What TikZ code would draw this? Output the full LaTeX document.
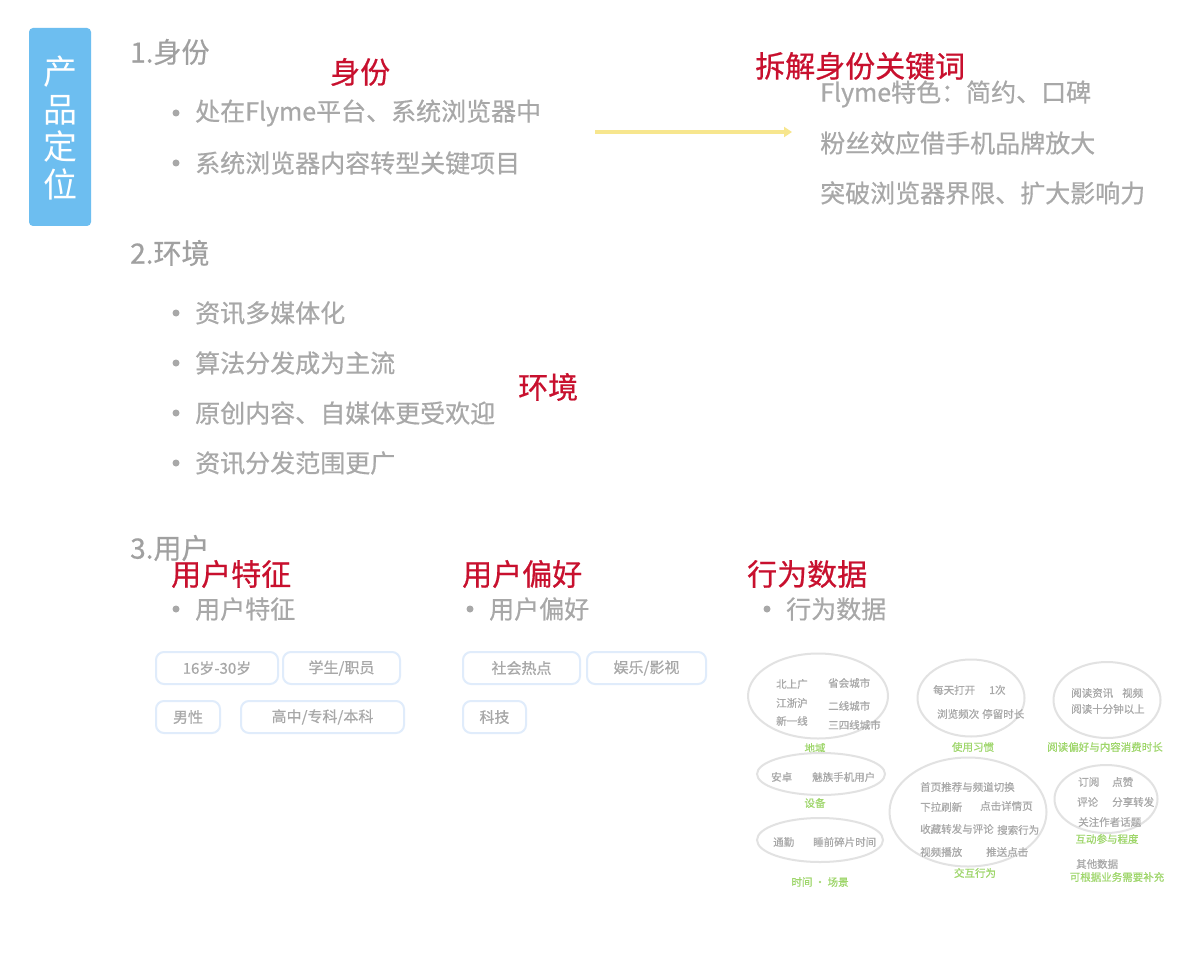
\documentclass[tikz,border=0pt]{standalone}
\usepackage{fontspec}
\setmainfont{Noto Sans CJK SC}
\newfontfamily\medfont[FakeBold=0.6]{Noto Sans CJK SC}
\usetikzlibrary{arrows.meta,shapes.geometric}
\definecolor{redlbl}{HTML}{C8102E}
\definecolor{blueside}{HTML}{6DBEF0}
\definecolor{graytxt}{HTML}{A0A0A0}
\definecolor{lightgray}{HTML}{A8A8A8}
\definecolor{tagline}{HTML}{E0ECFB}
\definecolor{ellline}{HTML}{E2E2E2}
\definecolor{greentxt}{HTML}{9ED66A}
\definecolor{arrowyellow}{HTML}{F7E68E}
\tikzset{
  redtitle/.style={text=redlbl,font=\medfont\fontsize{30}{33}\selectfont,inner sep=0pt,anchor=west},
  headtxt/.style={text=graytxt,font=\medfont\fontsize{28}{32}\selectfont,inner sep=0pt,anchor=west},
  itemtxt/.style={text=lightgray,font=\medfont\fontsize{25}{29}\selectfont,inner sep=0pt,anchor=west},
  bdot/.style={circle,fill=lightgray,inner sep=0pt,minimum size=7pt},
  tagbox/.style={draw=tagline,line width=2pt,rounded corners=8pt,fill=white,text=lightgray,font=\medfont\fontsize{15}{18}\selectfont,inner sep=0pt,minimum height=32pt},
  bubble/.style={draw=ellline,line width=2pt,ellipse,inner sep=0pt},
  bubtxt/.style={text=lightgray,font=\medfont\fontsize{10.5}{12}\selectfont,inner sep=0pt,anchor=west},
  greenlbl/.style={text=greentxt,font=\medfont\fontsize{10.5}{12}\selectfont,inner sep=0pt},
}
\begin{document}
\begin{tikzpicture}[x=1pt,y=-1pt]
\useasboundingbox[fill=white] (0,0) rectangle (1190,968);
% side label
\node[fill=blueside,rounded corners=4pt,minimum width=62pt,minimum height=198pt,inner sep=0pt] (side) at (60,127) {};
\node[text=white,font=\fontsize{34}{37.5}\selectfont,align=center,inner sep=0pt] (sidetxt) at (60,128) {产\\品\\定\\位};

% section 1
\node[headtxt] (h1) at (130,52) {1.身份};
\node[redtitle] (r1) at (330,72) {身份};
\node[bdot] (d11) at (176,113) {};
\node[itemtxt] (i11) at (195,113) {处在Flyme平台、系统浏览器中};
\node[bdot] (d12) at (176,163) {};
\node[itemtxt] (i12) at (195,163) {系统浏览器内容转型关键项目};
\coordinate (astart) at (595,132);
\coordinate (aend) at (792,132);
\draw[arrowyellow,line width=3.5pt,-{Triangle[length=8pt,width=10pt]}] (astart) -- (aend);
\node[redtitle] (r1b) at (755,66) {拆解身份关键词};
\node[itemtxt] (k1) at (820,94) {Flyme特色：简约、口碑};
\node[itemtxt] (k2) at (820,143) {粉丝效应借手机品牌放大};
\node[itemtxt] (k3) at (820,193) {突破浏览器界限、扩大影响力};

% section 2
\node[headtxt] (h2) at (130,253) {2.环境};
\node[bdot] (d21) at (176,313) {};
\node[itemtxt] (i21) at (195,313) {资讯多媒体化};
\node[bdot] (d22) at (176,363) {};
\node[itemtxt] (i22) at (195,363) {算法分发成为主流};
\node[bdot] (d23) at (176,413) {};
\node[itemtxt] (i23) at (195,413) {原创内容、自媒体更受欢迎};
\node[bdot] (d24) at (176,463) {};
\node[itemtxt] (i24) at (195,463) {资讯分发范围更广};
\node[redtitle] (r2) at (518,387) {环境};

% section 3
\node[headtxt] (h3) at (130,548) {3.用户};
\node[redtitle] (r31) at (171,574) {用户特征};
\node[redtitle] (r32) at (462,574) {用户偏好};
\node[redtitle] (r33) at (747,574) {行为数据};
\node[bdot] (d31) at (176,609) {};
\node[itemtxt] (i31) at (195,609) {用户特征};
\node[bdot] (d32) at (470,609) {};
\node[itemtxt] (i32) at (489,609) {用户偏好};
\node[bdot] (d33) at (767,609) {};
\node[itemtxt] (i33) at (786,609) {行为数据};

% tags
\node[tagbox,minimum width=122pt] (t1) at (217,668) {16岁-30岁};
\node[tagbox,minimum width=117pt] (t2) at (341.5,668) {学生/职员};
\node[tagbox,minimum width=64pt] (t3) at (188,717) {男性};
\node[tagbox,minimum width=163pt] (t4) at (322.5,717) {高中/专科/本科};
\node[tagbox,minimum width=117pt] (t5) at (521.5,668) {社会热点};
\node[tagbox,minimum width=119pt] (t6) at (646.5,668) {娱乐/影视};
\node[tagbox,minimum width=63pt] (t7) at (494.5,717) {科技};

% bubbles
\node[bubble,minimum width=140pt,minimum height=85pt] (e1) at (818,696) {};
\node[bubtxt] at (776,684) {北上广};
\node[bubtxt] at (776,703) {江浙沪};
\node[bubtxt] at (776,721) {新一线};
\node[bubtxt] at (828,683) {省会城市};
\node[bubtxt] at (828,706) {二线城市};
\node[bubtxt] at (828,725) {三四线城市};
\node[greenlbl] (g1) at (815,748) {地域};

\node[bubble,minimum width=128pt,minimum height=42pt] (e2) at (821,774) {};
\node[bubtxt] at (771,777) {安卓~~};
\node[bubtxt] at (812,777) {魅族手机用户};
\node[greenlbl] (g2) at (815,803) {设备};

\node[bubble,minimum width=126pt,minimum height=44pt] (e3) at (820,840) {};
\node[bubtxt] at (773,842) {通勤};
\node[bubtxt] at (813,842) {睡前碎片时间};
\node[greenlbl] (g3) at (820,882) {时间 · 场景};

\node[bubble,minimum width=107pt,minimum height=77pt] (e4) at (971,698) {};
\node[bubtxt] at (933,690) {每天打开};
\node[bubtxt] at (989,690) {1次};
\node[bubtxt] at (937,714) {浏览频次};
\node[bubtxt] at (982,714) {停留时长};
\node[greenlbl] (g4) at (973,747) {使用习惯};

\node[bubble,minimum width=107pt,minimum height=76pt] (e5) at (1107,700) {};
\node[bubtxt] at (1071,693) {阅读资讯};
\node[bubtxt] at (1122,693) {视频};
\node[bubtxt] at (1071,709) {阅读十分钟以上};
\node[greenlbl] (g5) at (1105,747) {阅读偏好与内容消费时长};

\node[bubble,minimum width=157pt,minimum height=109pt] (e6) at (968,812) {};
\node[bubtxt] at (920,787) {首页推荐与频道切换};
\node[bubtxt] at (920,807) {下拉刷新};
\node[bubtxt] at (980,806) {点击详情页};
\node[bubtxt] at (920,829) {收藏转发与评论};
\node[bubtxt] at (997,830) {搜索行为};
\node[bubtxt] at (920,852) {视频播放};
\node[bubtxt] at (986,852) {推送点击};
\node[greenlbl] (g6) at (975,873) {交互行为};

\node[bubble,minimum width=103pt,minimum height=68pt] (e7) at (1106,799) {};
\node[bubtxt] at (1078,782) {订阅};
\node[bubtxt] at (1112,782) {点赞};
\node[bubtxt] at (1077,802) {评论};
\node[bubtxt] at (1112,802) {分享转发};
\node[bubtxt] at (1078,822) {关注作者话题};
\node[greenlbl] (g7) at (1107,839) {互动参与程度};
\node[bubtxt] (x8) at (1076,864) {其他数据};
\node[greenlbl] (g8) at (1117,877) {可根据业务需要补充};
\end{tikzpicture}
\end{document}
